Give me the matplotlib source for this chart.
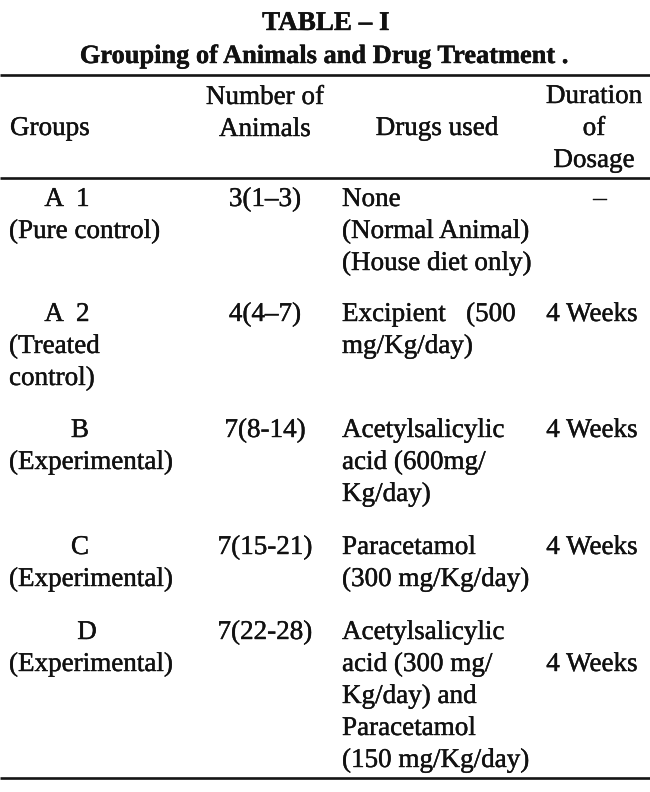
import matplotlib
matplotlib.use("Agg")
import matplotlib.pyplot as plt
import matplotlib.patheffects as pe

# table content
title = "TABLE \u2013 I"
subtitle = "Grouping of Animals and Drug Treatment ."
headers = ["Groups", "Number of\nAnimals", "Drugs used", "Duration\nof\nDosage"]
group_labels = ["A  1", "A  2", "B", "C", "D"]
group_descs = ["(Pure control)", "(Treated\ncontrol)", "(Experimental)",
               "(Experimental)", "(Experimental)"]
animals = ["3(1\u20133)", "4(4\u20137)", "7(8-14)", "7(15-21)", "7(22-28)"]
drugs = ["None\n(Normal Animal)\n(House diet only)",
         "Excipient   (500\nmg/Kg/day)",
         "Acetylsalicylic\nacid (600mg/\nKg/day)",
         "Paracetamol\n(300 mg/Kg/day)",
         "Acetylsalicylic\nacid (300 mg/\nKg/day) and\nParacetamol\n(150 mg/Kg/day)"]
durations = ["\u2013", "4 Weeks", "4 Weeks", "4 Weeks", "\n4 Weeks"]

W, H = 650, 792
FS = 19.5
LS = 32  # line step in px
ink = "#111111"
plt.rcParams['font.family'] = ['Liberation Serif', 'DejaVu Serif']
heavy = [pe.withStroke(linewidth=0.3, foreground=ink)]

fig = plt.figure(figsize=(W / 100, H / 100), dpi=100)
ax = fig.add_axes([0, 0, 1, 1])
ax.set_xlim(0, W)
ax.set_ylim(H, 0)
ax.axis('off')


def put(x, y, s, ha='left', fs=FS, **kw):
    # one text line per row, baseline at y
    for i, line in enumerate(s.split("\n")):
        if line:
            ax.text(x, y + i * LS, line, ha=ha, va='baseline',
                    fontsize=fs, color=ink, path_effects=heavy, **kw)


put(326, 30, title, ha='center', fontweight='bold')
put(324, 63, subtitle, ha='center', fs=19, fontweight='bold')

for yl in (75, 178, 778):
    ax.plot([0, W], [yl, yl], color='#151515', lw=1.9, solid_capstyle='butt')

# header
put(10, 135, headers[0])
put(265, 104, headers[1], ha='center')
put(437, 135, headers[2], ha='center')
put(594, 103, headers[3], ha='center')

row_base = [206, 321, 437, 554, 639]
letter_x = [67, 67, 80, 80, 87]
for i in range(len(group_labels)):
    y = row_base[i]
    put(letter_x[i], y, group_labels[i], ha='center')
    put(9, y + LS, group_descs[i])
    put(265, y, animals[i], ha='center')
    put(342, y, drugs[i])
    dx = 600 if durations[i] == "\u2013" else 592
    put(dx, y, durations[i], ha='center')

fig.savefig("out.png", dpi=100, facecolor='white')
